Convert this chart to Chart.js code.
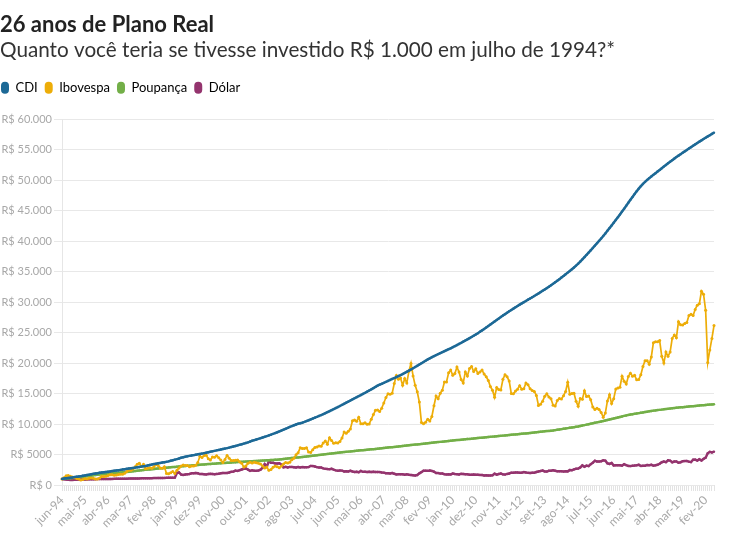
<!DOCTYPE html>
<html>
<head>
<meta charset="utf-8">
<script src="https://cdn.jsdelivr.net/npm/chart.js@4.4.1/dist/chart.umd.min.js"></script>
<style>
  html, body { margin: 0; padding: 0; background: #fff; }
  #wrap { width: 734px; height: 535px; }
</style>
</head>
<body>
<div id="wrap"><canvas id="chart" width="734" height="535"></canvas></div>
<script>
// months jun-94 .. jun-20 (monthly)
const monthNames = ['jan','fev','mar','abr','mai','jun','jul','ago','set','out','nov','dez'];
const labels = [];
for (let y = 1994, m = 5; labels.length < 313; ) {
  labels.push(monthNames[m] + '-' + String(y).slice(2));
  m++;
  if (m === 12) { m = 0; y++; }
}
const labelStep = 11;

const yTickLabels = ['R$ 0', 'R$ 5000', 'R$ 10.000', 'R$ 15.000', 'R$ 20.000', 'R$ 25.000',
  'R$ 30.000', 'R$ 35.000', 'R$ 40.000', 'R$ 45.000', 'R$ 50.000', 'R$ 55.000', 'R$ 60.000'];

// values in R$ (monthly, jun-94 first)
const cdi = [
  1000, 1055, 1100, 1145, 1190, 1240, 1295,
  1350, 1400, 1455, 1515, 1575, 1640, 1705, 1770, 1830, 1890, 1945, 2000,
  2050, 2095, 2140, 2185, 2230, 2280, 2330, 2380, 2430, 2480, 2535, 2590,
  2650, 2700, 2750, 2800, 2850, 2905, 2960, 3015, 3070, 3125, 3200, 3275,
  3350, 3430, 3500, 3565, 3625, 3680, 3740, 3800, 3880, 3980, 4070, 4160,
  4250, 4350, 4460, 4560, 4640, 4710, 4775, 4840, 4900, 4965, 5030, 5090,
  5150, 5225, 5300, 5375, 5450, 5525, 5600, 5680, 5755, 5830, 5900, 5975,
  6050, 6135, 6220, 6310, 6400, 6495, 6590, 6690, 6790, 6895, 7000, 7125,
  7250, 7355, 7460, 7570, 7680, 7790, 7905, 8020, 8140, 8260, 8390, 8520,
  8650, 8790, 8930, 9075, 9220, 9370, 9520, 9660, 9800, 9930, 10050, 10130,
  10220, 10350, 10490, 10620, 10760, 10900, 11040, 11180, 11330, 11470, 11620, 11780,
  11950, 12110, 12280, 12450, 12620, 12790, 12960, 13140, 13320, 13500, 13680, 13860,
  14050, 14230, 14400, 14580, 14760, 14940, 15120, 15310, 15500, 15690, 15890, 16090,
  16300, 16450, 16600, 16760, 16910, 17070, 17230, 17390, 17550, 17710, 17870, 18030,
  18200, 18380, 18570, 18760, 18950, 19150, 19350, 19550, 19760, 19970, 20180, 20390,
  20600, 20780, 20960, 21140, 21310, 21470, 21630, 21790, 21950, 22110, 22270, 22430,
  22600, 22780, 22960, 23140, 23320, 23510, 23700, 23890, 24080, 24280, 24480, 24690,
  24900, 25130, 25360, 25600, 25840, 26080, 26320, 26570, 26820, 27060, 27300, 27550,
  27800, 28030, 28260, 28490, 28710, 28930, 29150, 29370, 29580, 29790, 29990, 30190,
  30400, 30600, 30800, 31000, 31210, 31420, 31640, 31860, 32080, 32300, 32530, 32760,
  33000, 33250, 33510, 33770, 34030, 34300, 34570, 34840, 35110, 35390, 35680, 35990,
  36300, 36660, 37020, 37380, 37750, 38120, 38500, 38880, 39270, 39660, 40050, 40440,
  40840, 41270, 41700, 42140, 42580, 43020, 43470, 43920, 44380, 44850, 45320, 45800,
  46300, 46780, 47250, 47720, 48180, 48620, 49020, 49380, 49720, 50040, 50340, 50620,
  50880, 51150, 51420, 51690, 51960, 52230, 52500, 52770, 53030, 53290, 53540, 53790,
  54030, 54270, 54500, 54730, 54960, 55190, 55420, 55650, 55880, 56100, 56320, 56540,
  56760, 56970, 57180, 57380, 57590, 57800
];

const ibovespa = [
  1000, 1190, 1500, 1560, 1420, 1330, 1200,
  1080, 990, 820, 910, 1040, 990, 1120, 1150, 1090, 1000, 980, 1150,
  1380, 1400, 1440, 1560, 1700, 1700, 1610, 1660, 1720, 1780, 1770, 1920,
  2200, 2400, 2420, 2620, 3000, 3400, 3550, 3050, 3400, 2650, 2760, 2850,
  2750, 3000, 3350, 3200, 2800, 2750, 3000, 1900, 1850, 2000, 2200, 1900,
  2400, 2800, 3100, 3300, 3200, 3200, 3000, 3100, 3100, 3250, 3700, 4700,
  4500, 4850, 4900, 4300, 4100, 4600, 4550, 4800, 4450, 4100, 3700, 4200,
  4850, 4400, 4000, 4000, 4050, 4100, 3800, 3550, 2950, 3100, 3550, 3750,
  3600, 3750, 3650, 3550, 3450, 3100, 2800, 2950, 2400, 2550, 2900, 3100,
  3000, 2850, 3100, 3450, 3700, 3600, 3750, 4150, 4400, 4950, 5300, 6100,
  6000, 6000, 6100, 5400, 5350, 5800, 6150, 6250, 6400, 6350, 6900, 7200,
  6700, 7750, 7300, 6850, 6950, 6900, 7150, 7700, 8700, 8500, 8800, 9200,
  10550, 10650, 10450, 11100, 10050, 10050, 10200, 9950, 10000, 10800, 11550, 12250,
  12300, 12050, 12600, 13450, 14350, 14950, 14900, 15050, 16650, 17950, 17350, 17550,
  16350, 17450, 16750, 18650, 19950, 17900, 16350, 15300, 13600, 10250, 10050, 10300,
  10800, 10500, 11250, 13000, 14600, 14150, 15050, 15550, 16900, 16900, 18400, 18850,
  18000, 18300, 19350, 18550, 17300, 16750, 18550, 17900, 19100, 19450, 18600, 19050,
  18300, 18550, 18850, 18200, 17750, 17150, 16150, 15550, 14400, 16000, 15650, 15600,
  17350, 18100, 17750, 17050, 15000, 14950, 15400, 15700, 16300, 15700, 15800, 16750,
  16450, 15800, 15500, 15350, 14700, 13050, 13250, 13750, 14550, 14950, 14450, 14150,
  13100, 12950, 13850, 14200, 14100, 14650, 15350, 16850, 14900, 15000, 15050, 13750,
  12900, 14200, 14050, 15450, 14500, 14600, 14000, 12800, 12400, 12600, 12400, 11900,
  11100, 11800, 13800, 14800, 13350, 14150, 15750, 15900, 16050, 17850, 17000, 16550,
  17800, 18350, 17850, 18000, 17250, 17300, 18100, 19450, 20400, 20400, 19800, 21000,
  23350, 23500, 23500, 23700, 21100, 20000, 21800, 21100, 21800, 24050, 24600, 24150,
  26800, 26300, 26250, 26500, 26650, 27800, 28000, 27800, 28800, 29500, 29750, 31800,
  31300, 28650, 20100, 22150, 24050, 26150
];

const poupanca = [
  1000, 1030, 1060, 1090, 1120, 1155, 1190,
  1220, 1265, 1310, 1355, 1400, 1445, 1490, 1535, 1580, 1625, 1665, 1710,
  1750, 1785, 1820, 1850, 1885, 1915, 1950, 1985, 2015, 2050, 2085, 2115,
  2150, 2190, 2225, 2260, 2300, 2340, 2375, 2410, 2450, 2490, 2525, 2560,
  2600, 2635, 2665, 2700, 2735, 2765, 2800, 2835, 2865, 2900, 2935, 2965,
  3000, 3030, 3060, 3090, 3115, 3145, 3175, 3205, 3235, 3260, 3290, 3320,
  3350, 3375, 3400, 3425, 3450, 3475, 3500, 3525, 3550, 3575, 3600, 3625,
  3650, 3670, 3690, 3715, 3735, 3755, 3775, 3795, 3815, 3840, 3860, 3880,
  3900, 3920, 3940, 3960, 3985, 4005, 4025, 4045, 4065, 4090, 4110, 4130,
  4150, 4190, 4230, 4270, 4310, 4345, 4380, 4420, 4455, 4495, 4530, 4565,
  4600, 4640, 4680, 4725, 4765, 4810, 4850, 4890, 4935, 4975, 5015, 5060,
  5100, 5135, 5175, 5210, 5250, 5290, 5325, 5360, 5400, 5440, 5475, 5510,
  5550, 5585, 5615, 5650, 5685, 5715, 5750, 5780, 5815, 5850, 5880, 5915,
  5950, 5985, 6025, 6060, 6100, 6140, 6175, 6210, 6250, 6290, 6325, 6360,
  6400, 6435, 6475, 6510, 6550, 6590, 6625, 6660, 6700, 6740, 6775, 6810,
  6850, 6885, 6925, 6960, 7000, 7040, 7075, 7110, 7150, 7190, 7225, 7260,
  7300, 7335, 7365, 7400, 7435, 7465, 7500, 7535, 7565, 7600, 7635, 7665,
  7700, 7735, 7765, 7800, 7835, 7865, 7900, 7935, 7965, 8000, 8035, 8065,
  8100, 8135, 8165, 8200, 8235, 8265, 8300, 8335, 8365, 8400, 8435, 8465,
  8500, 8535, 8575, 8610, 8650, 8690, 8725, 8760, 8800, 8840, 8875, 8910,
  8950, 9000, 9055, 9110, 9165, 9220, 9275, 9330, 9385, 9440, 9490, 9545,
  9600, 9675, 9750, 9825, 9900, 9975, 10050, 10125, 10200, 10275, 10350, 10425,
  10500, 10585, 10665, 10750, 10835, 10915, 11000, 11085, 11165, 11250, 11335, 11415,
  11500, 11560, 11615, 11675, 11735, 11790, 11850, 11910, 11965, 12025, 12085, 12140,
  12200, 12240, 12285, 12325, 12365, 12410, 12450, 12490, 12535, 12575, 12615, 12660,
  12700, 12735, 12765, 12800, 12835, 12865, 12900, 12935, 12965, 13000, 13035, 13065,
  13100, 13130, 13160, 13190, 13220, 13250
];

const dolar = [
  1000, 930, 900, 860, 840, 840, 846,
  845, 860, 890, 910, 895, 915, 930, 950, 955, 960, 965, 972,
  975, 985, 990, 990, 995, 1000, 1010, 1015, 1020, 1025, 1030, 1039,
  1045, 1050, 1060, 1062, 1070, 1077, 1085, 1090, 1100, 1105, 1110, 1116,
  1120, 1130, 1135, 1145, 1150, 1155, 1165, 1175, 1185, 1190, 1190, 1208,
  1980, 2060, 1720, 1660, 1720, 1770, 1800, 1910, 1920, 1970, 1930, 1790,
  1800, 1770, 1740, 1810, 1830, 1800, 1770, 1820, 1840, 1910, 1960, 1950,
  1970, 2050, 2160, 2190, 2360, 2310, 2430, 2550, 2670, 2710, 2530, 2320,
  2420, 2350, 2320, 2360, 2520, 2840, 3430, 3020, 3890, 3640, 3640, 3530,
  3530, 3560, 3350, 2890, 2970, 2870, 2970, 2970, 2920, 2860, 2950, 2890,
  2940, 2910, 2910, 2940, 3130, 3100, 3040, 2930, 2860, 2860, 2730, 2650,
  2620, 2600, 2670, 2530, 2400, 2350, 2390, 2360, 2220, 2260, 2210, 2340,
  2220, 2130, 2170, 2090, 2300, 2160, 2180, 2140, 2170, 2140, 2170, 2140,
  2130, 2120, 2050, 2030, 1930, 1930, 1880, 1970, 1840, 1740, 1780, 1770,
  1760, 1680, 1750, 1690, 1650, 1600, 1570, 1630, 1910, 2120, 2330, 2340,
  2320, 2380, 2310, 2180, 1970, 1950, 1870, 1880, 1780, 1740, 1750, 1740,
  1880, 1810, 1780, 1730, 1830, 1800, 1760, 1760, 1690, 1700, 1720, 1670,
  1670, 1660, 1630, 1570, 1580, 1560, 1550, 1590, 1850, 1690, 1810, 1880,
  1740, 1710, 1820, 1890, 2020, 2020, 2050, 2040, 2030, 2030, 2110, 2040,
  1990, 1980, 2010, 2000, 2130, 2220, 2290, 2370, 2230, 2200, 2330, 2350,
  2430, 2330, 2260, 2240, 2240, 2200, 2270, 2240, 2450, 2440, 2560, 2660,
  2690, 2880, 3210, 2990, 3180, 3100, 3420, 3650, 3970, 3860, 3850, 3900,
  4040, 3980, 3560, 3450, 3610, 3210, 3240, 3230, 3250, 3180, 3400, 3260,
  3130, 3100, 3170, 3200, 3240, 3310, 3130, 3150, 3170, 3280, 3260, 3310,
  3180, 3240, 3320, 3480, 3740, 3860, 3750, 4060, 4000, 3720, 3860, 3870,
  3650, 3740, 3900, 3920, 3930, 3830, 3760, 4140, 4160, 4000, 4220, 4020,
  4280, 4480, 5200, 5430, 5340, 5470
];

const seriesNames = ['CDI', 'Ibovespa', 'Poupança', 'Dólar'];
const seriesColors = ['#1D6996', '#EDAD08', '#73AF48', '#94346E'];

const FONT = 'Lato, "Open Sans", sans-serif';

function makeDataset(i, values, width, radius) {
  return {
    label: seriesNames[i],
    data: values,
    borderColor: seriesColors[i],
    backgroundColor: seriesColors[i],
    borderWidth: width,
    pointRadius: radius,
    pointBorderWidth: 0,
    pointBackgroundColor: seriesColors[i],
    tension: 0,
    fill: false,
  };
}

// legend: pull it to the left edge and leave room under it, like the original
const legendTweak = {
  id: 'legendTweak',
  beforeLayout(chart) {
    const lg = chart.legend;
    if (lg && !lg._tweaked) {
      const fit = lg.fit;
      lg.fit = function () {
        fit.call(this);
        this.height += 15;
      };
      lg._tweaked = true;
    }
  },
  afterLayout(chart) {
    if (chart.legend) chart.legend.left -= 6;
  },
};

new Chart(document.getElementById('chart'), {
  type: 'line',
  data: {
    labels,
    datasets: [
      makeDataset(0, cdi, 2.5, 1.2),
      makeDataset(1, ibovespa, 1.7, 1.5),
      makeDataset(2, poupanca, 2.5, 1.2),
      makeDataset(3, dolar, 2.5, 1.2),
    ],
  },
  options: {
    responsive: false,
    animation: false,
    layout: { padding: { left: 0, right: 20, top: 0, bottom: 0 } },
    plugins: {
      title: {
        display: true,
        text: '26 anos de Plano Real',
        align: 'start',
        color: '#222',
        font: { family: FONT, size: 22, weight: 'bold' },
        padding: { top: 12, bottom: 0 },
      },
      subtitle: {
        display: true,
        text: 'Quanto você teria se tivesse investido R$ 1.000 em julho de 1994?*',
        align: 'start',
        color: '#333',
        font: { family: FONT, size: 20.7 },
        padding: { top: 0, bottom: 11 },
      },
      legend: {
        display: true,
        position: 'top',
        align: 'start',
        labels: {
          color: '#333',
          font: { family: FONT, size: 13 },
          boxWidth: 8,
          boxHeight: 12,
          padding: 7,
          generateLabels: (chart) => chart.data.datasets.map((ds, i) => ({
            text: ds.label,
            fillStyle: seriesColors[i],
            strokeStyle: seriesColors[i],
            lineWidth: 0,
            borderRadius: 4,
            hidden: false,
            datasetIndex: i,
          })),
          useBorderRadius: true,
          borderRadius: 4,
        },
      },
      tooltip: { enabled: false },
    },
    scales: {
      x: {
        type: 'category',
        border: { display: false },
        grid: {
          display: true,
          drawOnChartArea: false,
          drawTicks: true,
          tickLength: 6,
          color: '#e3e3e3',
        },
        ticks: {
          autoSkip: false,
          minRotation: 45,
          maxRotation: 45,
          padding: 2,
          color: '#a8a8a8',
          font: { family: FONT, size: 12 },
          callback: (val, i) => (i % labelStep === 0 ? labels[i] : ''),
        },
        afterFit: (scale) => { scale.height = 50; },
      },
      y: {
        min: 0,
        max: 60000,
        border: { display: true, color: '#e6e6e6' },
        grid: { color: '#e8e8e8', tickLength: 8 },
        ticks: {
          stepSize: 5000,
          padding: 2,
          color: '#a8a8a8',
          font: { family: FONT, size: 11 },
          callback: (val) => yTickLabels[Math.round(val / 5000)],
        },
        afterFit: (scale) => { scale.width = 62; },
      },
    },
  },
  plugins: [legendTweak],
});
</script>
</body>
</html>
